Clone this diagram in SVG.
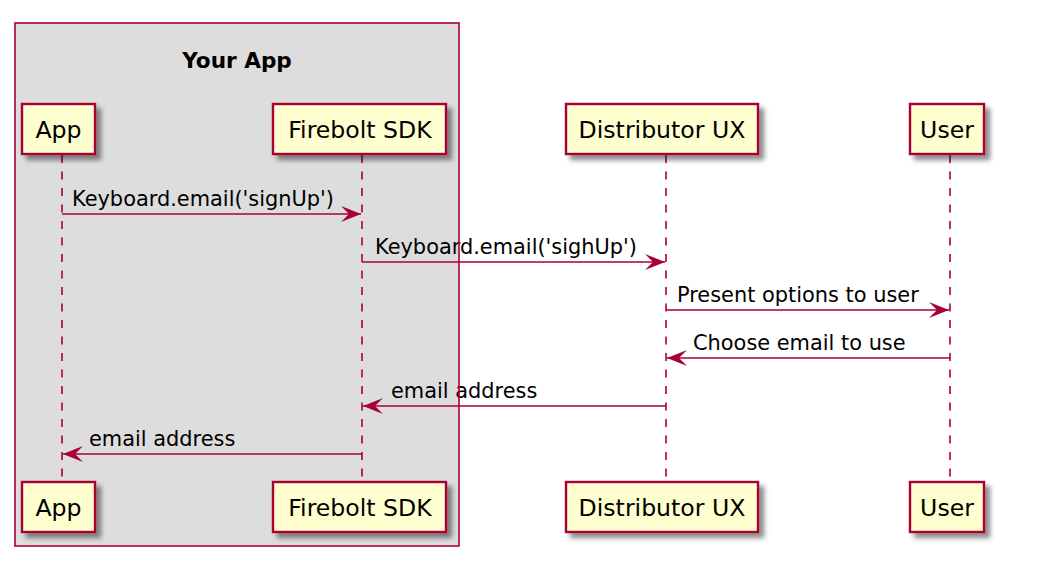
<svg xmlns="http://www.w3.org/2000/svg" width="1051" height="573" viewBox="0 0 1051 573">
<defs>
<filter id="sh" x="-20%" y="-20%" width="150%" height="160%">
<feGaussianBlur in="SourceAlpha" stdDeviation="2.5"/>
<feOffset dx="5" dy="5" result="b"/>
<feComponentTransfer><feFuncA type="linear" slope="0.45"/></feComponentTransfer>
<feMerge><feMergeNode/><feMergeNode in="SourceGraphic"/></feMerge>
</filter>
<marker id="ah" viewBox="0 0 20 16" refX="20" refY="8" markerWidth="20" markerHeight="16" markerUnits="userSpaceOnUse" orient="auto">
<polygon points="0,0 20,8 0,16 8,8" fill="#A80036"/>
</marker>
<style>
.box{fill:#DDDDDD;stroke:none}
.boxb{fill:none;stroke:#A80036;stroke-width:1.6}
.title{font-family:"DejaVu Sans",sans-serif;font-size:21.6px;font-weight:bold;fill:#000;text-anchor:middle}
.p rect{fill:#FEFECE;stroke:#A80036;stroke-width:2.4}
.p text{font-family:"DejaVu Sans",sans-serif;font-size:23.6px;fill:#000;text-anchor:middle}
.life{stroke:#A80036;stroke-width:1.6;stroke-dasharray:8,8.5;fill:none}
.msg{stroke:#A80036;stroke-width:1.6;fill:none;marker-end:url(#ah)}
.lbl{font-family:"DejaVu Sans",sans-serif;font-size:20.9px;fill:#000}
</style>
</defs>
<rect class="box" x="15" y="23" width="444" height="523"/>
<text class="title" x="237" y="68">Your App</text>
<g id="lifelines">
<line class="life" x1="62" y1="155" x2="62" y2="482"/>
<line class="life" x1="362" y1="155" x2="362" y2="482"/>
<line class="life" x1="666" y1="155" x2="666" y2="482"/>
<line class="life" x1="950" y1="155" x2="950" y2="482"/>
</g>
<g id="p-app" class="p">
<rect x="22" y="104" width="73" height="50" filter="url(#sh)"/>
<text x="58.5" y="137.5">App</text>
<rect x="22" y="482" width="73" height="50" filter="url(#sh)"/>
<text x="58.5" y="515.5">App</text>
</g>
<g id="p-sdk" class="p">
<rect x="273" y="104" width="173" height="50" filter="url(#sh)"/>
<text x="360" y="137.5">Firebolt SDK</text>
<rect x="273" y="482" width="173" height="50" filter="url(#sh)"/>
<text x="360" y="515.5">Firebolt SDK</text>
</g>
<g id="p-dux" class="p">
<rect x="566" y="104" width="192" height="50" filter="url(#sh)"/>
<text x="662" y="137.5">Distributor UX</text>
<rect x="566" y="482" width="192" height="50" filter="url(#sh)"/>
<text x="662" y="515.5">Distributor UX</text>
</g>
<g id="p-user" class="p">
<rect x="910" y="104" width="74" height="50" filter="url(#sh)"/>
<text x="947" y="137.5">User</text>
<rect x="910" y="482" width="74" height="50" filter="url(#sh)"/>
<text x="947" y="515.5">User</text>
</g>
<g id="connectors">
<line class="msg" x1="62" y1="214" x2="361" y2="214"/>
<text class="lbl" x="72" y="205.5">Keyboard.email('signUp')</text>
<line class="msg" x1="362" y1="262" x2="665" y2="262"/>
<text class="lbl" x="375" y="253.5">Keyboard.email('sighUp')</text>
<line class="msg" x1="666" y1="310" x2="949" y2="310"/>
<text class="lbl" x="677" y="301.5">Present options to user</text>
<line class="msg" x1="950" y1="358" x2="667" y2="358"/>
<text class="lbl" x="693" y="349.5">Choose email to use</text>
<line class="msg" x1="666" y1="406" x2="363" y2="406"/>
<text class="lbl" x="391" y="397.5">email address</text>
<line class="msg" x1="362" y1="454" x2="63" y2="454"/>
<text class="lbl" x="89" y="445.5">email address</text>
</g>
<rect class="boxb" x="15" y="23" width="444" height="523"/>
</svg>
